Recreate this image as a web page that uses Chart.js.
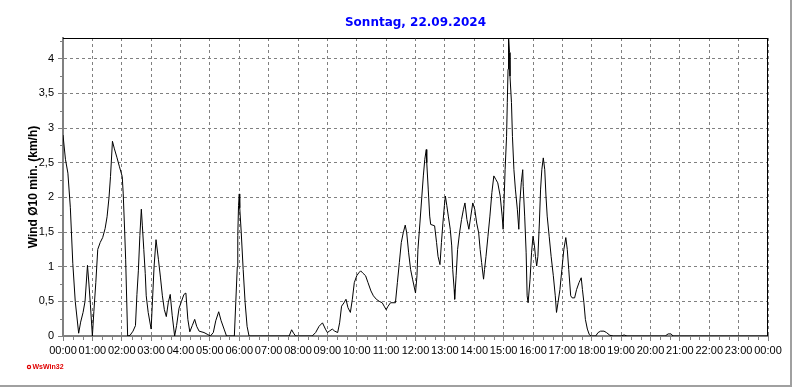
<!DOCTYPE html>
<html>
<head>
<meta charset="utf-8">
<script src="https://cdn.jsdelivr.net/npm/chart.js@4.4.0/dist/chart.umd.min.js"></script>
<style>
  html, body { margin: 0; padding: 0; background: #fff; }
  #wrap { width: 792px; height: 387px; position: relative; }
</style>
</head>
<body>
<div id="wrap"><canvas id="chart" width="792" height="387"></canvas></div>
<script>
// Tageswerte Wind (10-Min-Mittel), Zeit in Minuten seit 00:00
const chartTitle = "Sonntag, 22.09.2024"
const yTitle = "Wind Ø10 min. (km/h)"

const hourLabels = [
  "00:00", "01:00", "02:00", "03:00", "04:00", "05:00", "06:00", "07:00",
  "08:00", "09:00", "10:00", "11:00", "12:00", "13:00", "14:00", "15:00",
  "16:00", "17:00", "18:00", "19:00", "20:00", "21:00", "22:00", "23:00", "00:00",
]

const minutes = [
  0, 5, 10, 15, 20, 25, 32, 36, 41, 45, 50, 53, 56, 60, 63, 67, 71, 76, 81, 86,
  90, 94, 97, 101, 105, 110, 115, 121, 123, 126, 128, 132, 137, 143, 148, 151, 154, 157, 160, 162,
  165, 168, 170, 174, 180, 183, 186, 190, 195, 199, 203, 207, 211, 215, 219, 223, 228, 232, 237, 242,
  247, 251, 255, 259, 264, 269, 273, 278, 288, 296, 301, 307, 312, 318, 323, 329, 334, 350, 353, 356,
  357, 358.5, 360, 361, 364, 368, 372, 376, 380, 462, 467, 471, 475, 509, 516, 523, 530, 536, 540, 544,
  550, 555, 561, 565, 569, 574, 578, 582, 587, 591, 595, 600, 604, 608, 612, 618, 623, 629, 634, 640,
  646, 652, 656, 660, 664, 669, 679, 683, 687, 691, 695, 699, 702, 706, 710, 714, 720, 723, 725, 729,
  733, 736, 739, 742, 743, 746, 749, 751, 759, 763, 766, 770, 773, 776, 779, 781, 784, 787, 791, 794,
  796, 799, 800, 803, 806, 810, 814, 818, 821, 825, 829, 833, 837, 841, 845, 849, 852, 855, 859, 861,
  864, 868, 872, 876, 880, 884, 888, 893, 897, 899, 901, 903, 906, 907.5, 909, 910, 912, 913, 916, 918,
  921, 924, 928, 931, 933, 936, 939, 940, 943, 946, 948, 950, 954, 957, 960, 963, 965, 967.5, 970, 973,
  975.5, 978, 981, 984, 986.5, 989, 993, 997, 1001.5, 1005.5, 1008, 1011, 1015, 1019, 1023, 1027, 1030, 1033, 1037, 1040,
  1045, 1049, 1054, 1058.5, 1061, 1064, 1067, 1071, 1075, 1079, 1088, 1093, 1098, 1105, 1110, 1117, 1124, 1140, 1146, 1152,
  1230, 1236, 1242, 1246, 1440,
]

const wind = [
  2.9, 2.55, 2.35, 1.85, 1.05, 0.5, 0.04, 0.2, 0.34, 0.5, 1.02, 0.75, 0.45, 0, 0.35, 0.77, 1.25, 1.35, 1.42, 1.55,
  1.72, 2.0, 2.3, 2.81, 2.7, 2.58, 2.45, 2.3, 2.05, 1.5, 1.1, 0, 0.01, 0.07, 0.15, 0.6, 0.95, 1.45, 1.83, 1.6,
  1.25, 0.9, 0.58, 0.34, 0.1, 0.55, 1.0, 1.39, 1.1, 0.85, 0.58, 0.38, 0.28, 0.48, 0.6, 0.3, 0, 0.15, 0.4, 0.5,
  0.6, 0.62, 0.24, 0.06, 0.15, 0.24, 0.14, 0.07, 0.05, 0.02, 0, 0.05, 0.22, 0.35, 0.22, 0.1, 0, 0, 0.5, 1.0,
  1.45, 1.88, 2.05, 1.85, 1.5, 0.96, 0.48, 0.14, 0, 0, 0.09, 0.04, 0, 0, 0.05, 0.14, 0.19, 0.1, 0.05, 0.07,
  0.1, 0.07, 0.05, 0.19, 0.43, 0.48, 0.53, 0.41, 0.34, 0.53, 0.77, 0.87, 0.91, 0.94, 0.91, 0.87, 0.77, 0.65, 0.58, 0.53,
  0.5, 0.48, 0.43, 0.38, 0.43, 0.48, 0.48, 0.77, 1.06, 1.35, 1.49, 1.6, 1.49, 1.2, 0.96, 0.82, 0.62, 0.87, 1.25, 1.63,
  2.02, 2.31, 2.55, 2.69, 2.5, 2.12, 1.73, 1.61, 1.59, 1.35, 1.15, 1.03, 1.35, 1.63, 1.88, 2.02, 1.88, 1.73, 1.54, 1.3,
  0.96, 0.67, 0.53, 0.87, 1.25, 1.49, 1.68, 1.83, 1.92, 1.68, 1.54, 1.73, 1.92, 1.83, 1.63, 1.49, 1.25, 1.06, 0.82, 0.96,
  1.15, 1.44, 1.73, 2.07, 2.31, 2.26, 2.21, 2.02, 1.73, 1.54, 1.97, 2.4, 2.88, 3.37, 3.85, 4.35, 4.09, 3.75, 3.37, 2.88,
  2.4, 2.12, 1.83, 1.54, 1.92, 2.21, 2.4, 2.16, 1.73, 1.2, 0.58, 0.48, 0.82, 1.2, 1.44, 1.3, 1.15, 1.01, 1.15, 1.63,
  2.12, 2.4, 2.57, 2.4, 2.02, 1.73, 1.44, 1.15, 0.87, 0.58, 0.34, 0.48, 0.67, 0.96, 1.25, 1.42, 1.25, 0.96, 0.58, 0.55,
  0.55, 0.67, 0.77, 0.84, 0.67, 0.48, 0.24, 0.1, 0.02, 0, 0, 0.05, 0.07, 0.07, 0.05, 0.01, 0, 0, 0.015, 0,
  0, 0.03, 0.03, 0, 0,
]

// Rahmen, Nebenstriche, Titel und Logo
const decorations = {
  id: "decorations",
  afterDraw(chart) {
    const ctx = chart.ctx
    const { left, right, top, bottom } = chart.chartArea
    const x = chart.scales.x
    const y = chart.scales.y

    ctx.save()
    // obere und rechte Kante
    ctx.strokeStyle = "#000"
    ctx.lineWidth = 1
    ctx.beginPath()
    ctx.moveTo(left, top + 0.5)
    ctx.lineTo(right, top + 0.5)
    ctx.moveTo(right - 0.5, top)
    ctx.lineTo(right - 0.5, bottom)
    ctx.stroke()

    // Nebenstriche
    ctx.strokeStyle = "#808080"
    ctx.beginPath()
    for (let m = 20; m < 1440; m += 20) {
      if (m % 60 === 0) continue
      const px = Math.round(x.getPixelForValue(m)) + 0.5
      ctx.moveTo(px, bottom)
      ctx.lineTo(px, bottom + 4)
    }
    for (let v = 0.25; v < 4.3; v += 0.5) {
      const py = Math.round(y.getPixelForValue(v)) + 0.5
      ctx.moveTo(left - 3, py)
      ctx.lineTo(left, py)
    }
    ctx.stroke()

    // Titel
    ctx.fillStyle = "#0000ff"
    ctx.font = "bold 12px 'DejaVu Sans'"
    ctx.textAlign = "center"
    ctx.textBaseline = "middle"
    ctx.fillText(chartTitle, (left + right) / 2, 23)

    // Logo
    ctx.strokeStyle = "#e00000"
    ctx.lineWidth = 1.2
    ctx.beginPath()
    ctx.arc(29, 367, 1.6, 0, Math.PI * 2)
    ctx.stroke()
    ctx.fillStyle = "#e00000"
    ctx.font = "bold 7px 'Liberation Sans'"
    ctx.textAlign = "left"
    ctx.fillText("WsWin32", 32.5, 367.5)

    // äußerer Rahmen
    ctx.fillStyle = "#a0a0a0"
    ctx.fillRect(790, 0, 2, 387)
    ctx.fillRect(0, 385, 792, 2)
    ctx.restore()
  },
}

const ctx = document.getElementById("chart").getContext("2d")

new Chart(ctx, {
  type: "line",
  data: {
    datasets: [
      {
        data: minutes.map((m, i) => ({ x: m, y: wind[i] })),
        borderColor: "#000",
        borderWidth: 1,
        pointRadius: 0,
        tension: 0,
        fill: false,
      },
    ],
  },
  options: {
    responsive: false,
    animation: false,
    devicePixelRatio: 1,
    layout: { padding: { top: 38, right: 24, left: 0, bottom: 0 } },
    plugins: {
      legend: { display: false },
      tooltip: { enabled: false },
    },
    scales: {
      x: {
        type: "linear",
        min: 0,
        max: 1440,
        afterFit: (s) => { s.height = 51 },
        ticks: {
          stepSize: 60,
          autoSkip: false,
          maxRotation: 0,
          minRotation: 0,
          padding: 3,
          color: "#000",
          font: { family: "'Liberation Sans', Arial", size: 11 },
          callback: (v) => hourLabels[Math.round(v / 60)],
        },
        grid: { color: "#808080", tickLength: 5, tickColor: "#808080" },
        border: { color: "#808080", width: 2, dash: [3, 3] },
      },
      y: {
        min: 0,
        max: 4.3,
        afterFit: (s) => { s.width = 63 },
        ticks: {
          stepSize: 0.5,
          includeBounds: false,
          padding: 4,
          color: "#000",
          font: { family: "'Liberation Sans', Arial", size: 11 },
          callback: (v) => String(v).replace(".", ","),
        },
        grid: { color: "#808080", tickLength: 5, tickColor: "#808080" },
        border: { color: "#808080", width: 2, dash: [3, 3] },
        title: {
          display: true,
          text: yTitle,
          color: "#000",
          font: { family: "'Liberation Sans', Arial", size: 12, weight: "bold" },
          padding: { top: 26, bottom: 0 },
        },
      },
    },
  },
  plugins: [decorations],
})
</script>
</body>
</html>
